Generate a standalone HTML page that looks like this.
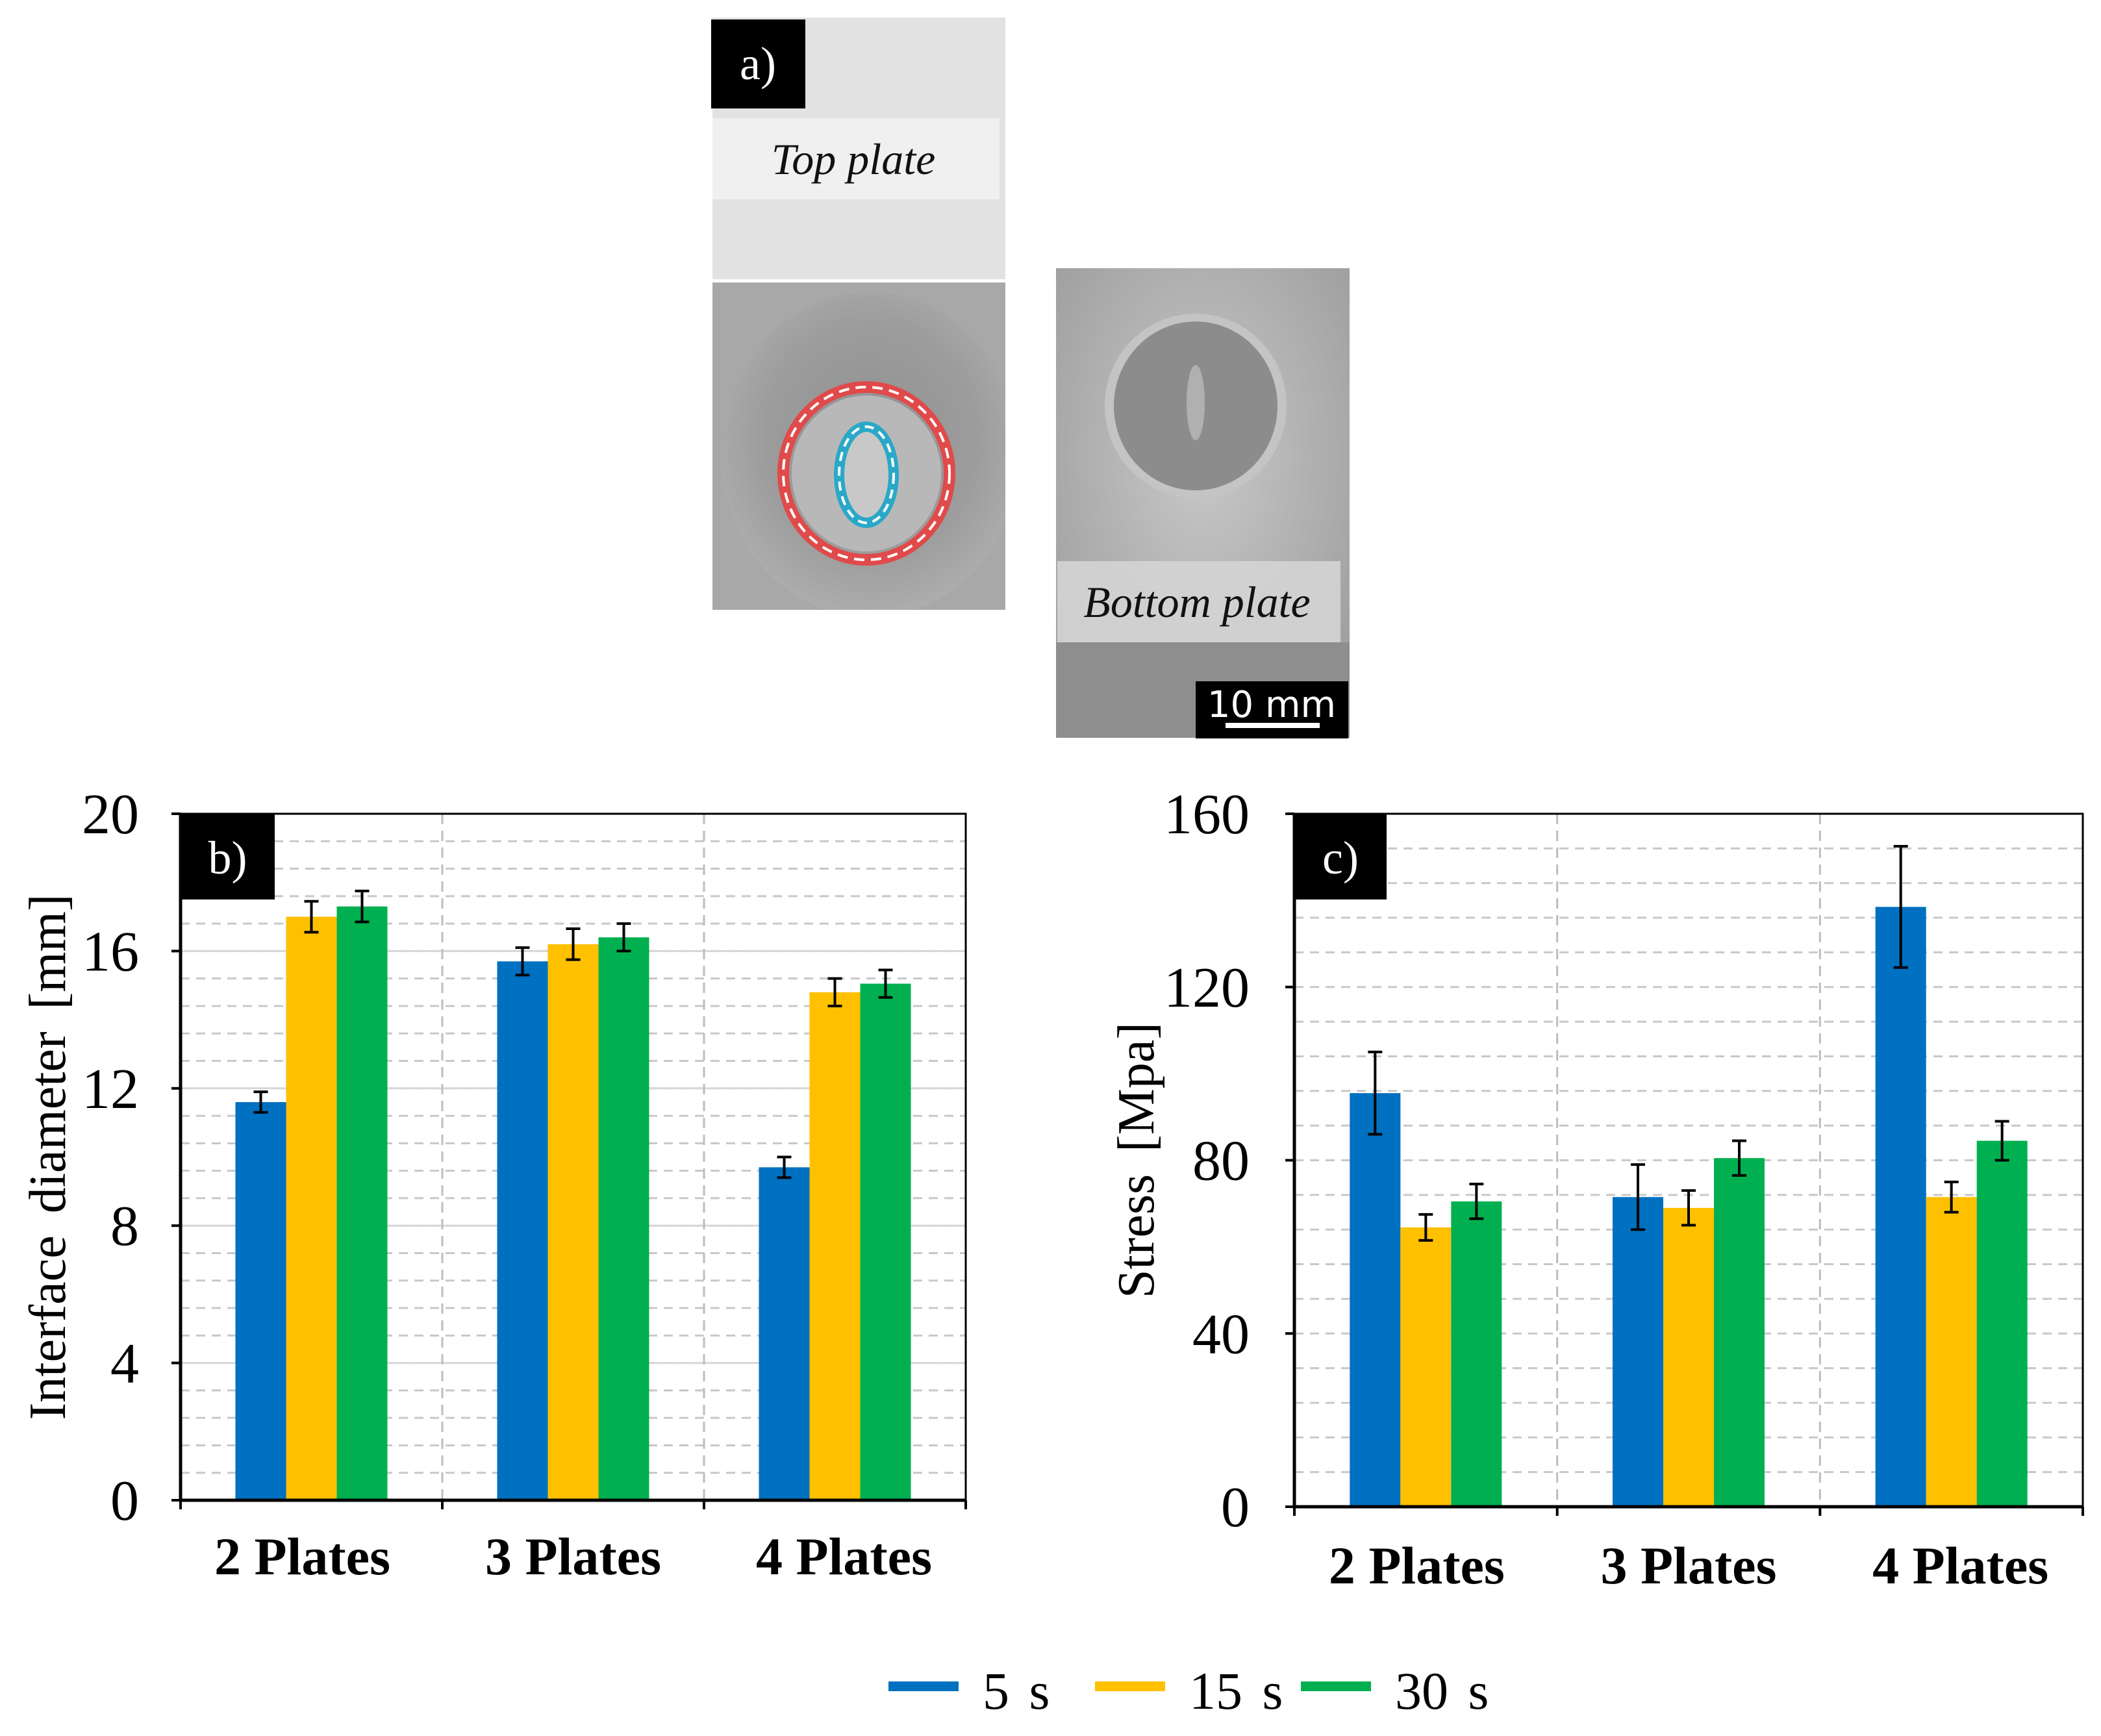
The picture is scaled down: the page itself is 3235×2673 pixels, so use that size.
<!DOCTYPE html>
<html><head><meta charset="utf-8"><style>
html,body{margin:0;padding:0;background:#fff}
svg{display:block}
text{font-family:"Liberation Serif",serif}
</style></head><body>
<svg id="fig" width="3235" height="2673" viewBox="0 0 3235 2673" xmlns="http://www.w3.org/2000/svg">
<defs>
<radialGradient id="g1" cx="0.5" cy="0.45" r="0.6"><stop offset="0" stop-color="#8a8a8a"/><stop offset="0.6" stop-color="#9a9a9a"/><stop offset="1" stop-color="#b4b4b4"/></radialGradient>
<radialGradient id="g2" cx="0.5" cy="0.4" r="0.7"><stop offset="0" stop-color="#c8c8c8"/><stop offset="1" stop-color="#9c9c9c"/></radialGradient>
<clipPath id="topclip"><rect x="1097" y="435" width="451" height="504"/></clipPath>
</defs>
<g>
  <rect x="1097" y="27" width="451" height="912" fill="#a8a8a8"/>
  <rect x="1097" y="27" width="451" height="403" fill="#e2e2e2"/>
  <ellipse cx="1340" cy="700" rx="230" ry="250" fill="url(#g1)" opacity="0.8" clip-path="url(#topclip)"/>
  <rect x="1097" y="430" width="451" height="5" fill="#fff"/>
  <rect x="1097" y="182" width="442" height="125" fill="#f2f2f2" opacity="0.85"/>
  <text x="1314" y="268" font-size="68" font-style="italic" text-anchor="middle" fill="#111">Top plate</text>
  <rect x="1095" y="30" width="145" height="137" fill="#000"/>
  <text x="1167" y="122" font-size="72" fill="#fff" text-anchor="middle">a)</text>
  <ellipse cx="1334" cy="729" rx="115" ry="120" fill="#b8b8b8"/>
  <ellipse cx="1334" cy="729" rx="128" ry="133" fill="none" stroke="#e04a4a" stroke-width="18"/>
  <ellipse cx="1334" cy="729" rx="128" ry="133" fill="none" stroke="#fff" stroke-width="4" stroke-dasharray="16 10"/>
  <ellipse cx="1334" cy="731" rx="42" ry="74" fill="#c8c8c8" stroke="#2aa8c8" stroke-width="16"/>
  <ellipse cx="1334" cy="731" rx="42" ry="74" fill="none" stroke="#fff" stroke-width="4" stroke-dasharray="14 9"/>
  <rect x="1626" y="413" width="452" height="723" fill="url(#g2)"/>
  <rect x="1626" y="989" width="452" height="147" fill="#8e8e8e"/>
  <ellipse cx="1841" cy="625" rx="140" ry="142" fill="#c4c4c4"/>
  <ellipse cx="1841" cy="625" rx="126" ry="130" fill="#8c8c8c"/>
  <ellipse cx="1841" cy="620" rx="14" ry="58" fill="#b0b0b0"/>
  <rect x="1628" y="864" width="436" height="125" fill="#d4d4d4" opacity="0.9"/>
  <text x="1843" y="950" font-size="68" font-style="italic" text-anchor="middle" fill="#111">Bottom plate</text>
  <rect x="1841" y="1049" width="235" height="88" fill="#000"/>
  <text x="1958" y="1104" font-size="56" text-anchor="middle" fill="#fff" style="font-family:'DejaVu Sans',sans-serif">10 mm</text>
  <rect x="1887" y="1113" width="145" height="8" fill="#fff"/>
</g>
<g id="chartB"></g>
<g id="chartC"></g>
<g id="legend"></g>
</svg>
<script>
const categories = ["2 Plates","3 Plates","4 Plates"];
const seriesNames = ["5 s","15 s","30 s"];
const colors = ["#0070c0","#ffc000","#00b050"];
const diam5 = [11.6, 15.7, 9.7];
const diam15 = [17.0, 16.2, 14.8];
const diam30 = [17.3, 16.4, 15.05];
const diamErr5 = [0.3, 0.4, 0.3];
const diamErr15 = [0.45, 0.45, 0.4];
const diamErr30 = [0.45, 0.4, 0.4];
const diamTicks = [0, 4, 8, 12, 16, 20];
const stress5 = [95.5, 71.5, 138.5];
const stress15 = [64.5, 69, 71.5];
const stress30 = [70.5, 80.5, 84.5];
const stressErr5 = [9.5, 7.5, 14];
const stressErr15 = [3, 4, 3.5];
const stressErr30 = [4, 4, 4.5];
const stressTicks = [0, 40, 80, 120, 160];

const NS = "http://www.w3.org/2000/svg";
function mk(tag, attrs, parent){
  const e = document.createElementNS(NS, tag);
  for (const k in attrs) e.setAttribute(k, attrs[k]);
  parent.appendChild(e); return e;
}
function drawChart(g, o){
  const {L,R,T,B,max,minorStep,majorSolid,ticks,vals,errs,tickRight,title,titleX,label,labelW,catY} = o;
  const y = v => B - (v/max)*(B-T);
  const catW = (R-L)/categories.length;
  const x = i => L + catW*(i+0.5);
  for (let v = minorStep; v < max - 1e-6; v += minorStep){
    const ln = mk("line",{x1:L,x2:R,y1:y(v),y2:y(v),stroke:"#c8c8c8","stroke-width":3,"stroke-dasharray":"14 10"},g);
    
    
  }
  if (majorSolid) ticks.forEach(v=>{ if(v>0&&v<max){
    const ln = mk("line",{x1:L,x2:R,y1:y(v),y2:y(v),stroke:"#d8d8d8","stroke-width":3},g);
    
    
  }});
  for (let i=1;i<categories.length;i++){
    const ln = mk("line",{x1:L+catW*i,x2:L+catW*i,y1:T,y2:B,stroke:"#bdbdbd","stroke-width":3,"stroke-dasharray":"16 10"},g);
    
    
  }
  const bw = 78;
  categories.forEach((c,i)=>{
    vals.forEach((s,j)=>{
      const bx = x(i) - 1.5*bw + j*bw;
      const r = mk("rect",{x:bx,y:y(s[i]),width:bw,height:B-y(s[i]),fill:colors[j]},g);
      
      
      const cx = bx + bw/2, e = errs[j][i];
      const eb = mk("path",{d:`M${cx-11},${y(s[i]+e)}H${cx+11}M${cx},${y(s[i]+e)}V${y(s[i]-e)}M${cx-11},${y(s[i]-e)}H${cx+11}`,stroke:"#000","stroke-width":4,fill:"none"},g);
      
      
    });
  });
  const fr = mk("path",{d:`M${L},${T}H${R}V${B}`,stroke:"#000","stroke-width":3,fill:"none"},g);
  
  
  const ax = mk("path",{d:`M${L},${T}V${B}H${R}`,stroke:"#000","stroke-width":5,fill:"none"},g);
  
  
  ticks.forEach(v=>{
    mk("line",{x1:L-14,x2:L,y1:y(v),y2:y(v),stroke:"#000","stroke-width":4},g);
    const t = mk("text",{x:tickRight,y:y(v)+30,"font-size":88,"text-anchor":"end",fill:"#000"},g);
    t.textContent = v;
    
    
  });
  for (let i=0;i<=categories.length;i++) mk("line",{x1:L+catW*i,x2:L+catW*i,y1:B,y2:B+14,stroke:"#000","stroke-width":4},g);
  categories.forEach((c,i)=>{
    const t = mk("text",{x:x(i)-14+i*14,y:catY,"font-size":82,"font-weight":"bold","text-anchor":"middle",fill:"#000"},g);
    t.textContent = c;
    
    
  });
  const tt = mk("text",{x:0,y:0,"font-size":80,"text-anchor":"middle",fill:"#000","word-spacing":"14",transform:`translate(${titleX},${(T+B)/2}) rotate(-90)`},g);
  tt.textContent = title;
  
  
  const lb = mk("rect",{x:L,y:T,width:labelW,height:132,fill:"#000"},g);
  
  
  const lt = mk("text",{x:L+labelW/2,y:T+92,"font-size":72,"text-anchor":"middle",fill:"#fff"},g);
  lt.textContent = label;
}
drawChart(document.getElementById("chartB"),{L:278,R:1487,T:1253,B:2310,max:20,minorStep:0.8,majorSolid:true,ticks:diamTicks,
  vals:[diam5,diam15,diam30],errs:[diamErr5,diamErr15,diamErr30],tickRight:214,title:"Interface diameter [mm]",titleX:100,label:"b)",labelW:145,catY:2424});
drawChart(document.getElementById("chartC"),{L:1993,R:3207,T:1253,B:2320,max:160,minorStep:8,majorSolid:false,ticks:stressTicks,
  vals:[stress5,stress15,stress30],errs:[stressErr5,stressErr15,stressErr30],tickRight:1924,title:"Stress [Mpa]",titleX:1776,label:"c)",labelW:142,catY:2438});
const lg = document.getElementById("legend");
const legX = [1368, 1686, 2003];
seriesNames.forEach((n,j)=>{
  const r = mk("rect",{x:legX[j],y:2589,width:108,height:15,fill:colors[j]},lg);
  
  
  const t = mk("text",{x:legX[j]+145,y:2631,"font-size":82,fill:"#000","word-spacing":"10"},lg);
  t.textContent = n;
  
  
});
</script>
</body></html>
